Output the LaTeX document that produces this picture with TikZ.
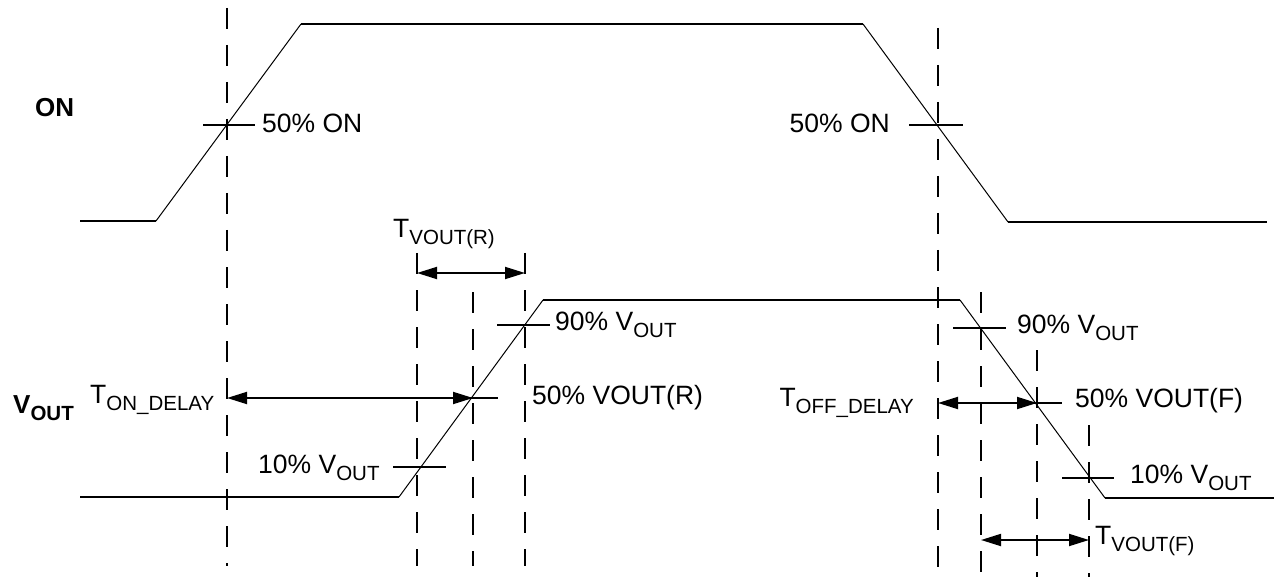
\documentclass[tikz,border=0pt]{standalone}
\usepackage{fontspec}
\setmainfont{Liberation Sans}
\usetikzlibrary{arrows.meta}
\newcommand{\lsub}[1]{\raisebox{-7pt}{\fontsize{20.5}{22}\selectfont #1}}
\begin{document}
\begin{tikzpicture}[x=1pt,y=-1pt,
  wave/.style={line width=1.8pt},
  slope/.style={line width=1pt},
  guide/.style={line width=2.2pt,dash pattern=on 21pt off 16pt},
  tickmark/.style={line width=1.8pt},
  dimline/.style={line width=1.8pt,{Triangle[length=20pt,width=12pt]}-{Triangle[length=20pt,width=12pt]}},
  lbl/.style={font=\fontsize{26.5}{30}\selectfont,inner sep=0pt},
  blbl/.style={font=\fontsize{26}{30}\selectfont\bfseries,inner sep=0pt}]
\useasboundingbox (0,0) rectangle (1276,577);
% ON waveform
\coordinate (on0) at (80,221);
\coordinate (on1) at (156,221);
\coordinate (on2) at (301,24);
\coordinate (on3) at (863,24);
\coordinate (on4) at (1008,222);
\coordinate (on5) at (1267,222);
\draw[wave] (on0) -- (on1);
\draw[slope] (on1) -- (on2);
\draw[wave] (on2) -- (on3);
\draw[slope] (on3) -- (on4);
\draw[wave] (on4) -- (on5);
% VOUT waveform
\coordinate (v0) at (80,497);
\coordinate (v1) at (399,497);
\coordinate (v2) at (543,300);
\coordinate (v3) at (960,300);
\coordinate (v4) at (1105,498);
\coordinate (v5) at (1274,498);
\draw[wave] (v0) -- (v1);
\draw[slope] (v1) -- (v2);
\draw[wave] (v2) -- (v3);
\draw[slope] (v3) -- (v4);
\draw[wave] (v4) -- (v5);
% guide lines
\coordinate (ga0) at (227,8);   \coordinate (ga1) at (227,566);
\coordinate (gb0) at (417,253); \coordinate (gb1) at (417,566);
\coordinate (gc0) at (473,292); \coordinate (gc1) at (473,566);
\coordinate (gd0) at (525,253); \coordinate (gd1) at (525,566);
\coordinate (ge0) at (938,28);  \coordinate (ge1) at (938,577);
\coordinate (gf0) at (981,292); \coordinate (gf1) at (981,577);
\coordinate (gg0) at (1037,350);\coordinate (gg1) at (1037,577);
\coordinate (gh0) at (1089,425);\coordinate (gh1) at (1089,577);
\foreach \g in {a,b,c,d,e,f,g,h} \draw[guide] (g\g0) -- (g\g1);
% tick marks
\coordinate (t1a) at (203,125);  \coordinate (t1b) at (255,125);
\coordinate (t2a) at (909,125);  \coordinate (t2b) at (963,125);
\coordinate (t3a) at (393,467);  \coordinate (t3b) at (446,467);
\coordinate (t4a) at (448,398);  \coordinate (t4b) at (498,398);
\coordinate (t5a) at (497,325);  \coordinate (t5b) at (550,325);
\coordinate (t6a) at (953,328);  \coordinate (t6b) at (1006,328);
\coordinate (t7a) at (1010,403); \coordinate (t7b) at (1062,403);
\coordinate (t8a) at (1062,478); \coordinate (t8b) at (1114,478);
\foreach \t in {1,...,8} \draw[tickmark] (t\t a) -- (t\t b);
% dimension arrows
\coordinate (dOnA) at (227,398);  \coordinate (dOnB) at (473,398);
\coordinate (dRA) at (417,273);   \coordinate (dRB) at (525,273);
\coordinate (dOffA) at (938,403); \coordinate (dOffB) at (1037,403);
\coordinate (dFA) at (981,540);   \coordinate (dFB) at (1089,540);
\draw[dimline] (dOnA) -- (dOnB);
\draw[dimline] (dRA) -- (dRB);
\draw[dimline] (dOffA) -- (dOffB);
\draw[dimline] (dFA) -- (dFB);
% labels
\node[blbl,anchor=base west] (lon) at (35,117) {ON};
\node[blbl,anchor=base west] (lvout) at (13,413) {V\lsub{\bfseries OUT}};
\node[lbl,anchor=base west] (l50a) at (262,133) {50\% ON};
\node[lbl,anchor=base east] (l50b) at (890,133) {50\% ON};
\node[lbl,anchor=base west] (ltr) at (393,238) {T\lsub{VOUT(R)}};
\node[lbl,anchor=base west] (l90a) at (555,330) {90\% V\lsub{OUT}};
\node[lbl,anchor=base west] (l50r) at (532,404) {50\% VOUT(R)};
\node[lbl,anchor=base west] (l10a) at (258,473) {10\% V\lsub{OUT}};
\node[lbl,anchor=base west] (lton) at (90,403) {T\lsub{ON\_DELAY}};
\node[lbl,anchor=base east] (ltoff) at (914,406) {T\lsub{OFF\_DELAY}};
\node[lbl,anchor=base west] (l90b) at (1017,333) {90\% V\lsub{OUT}};
\node[lbl,anchor=base west] (l50f) at (1075,407) {50\% VOUT(F)};
\node[lbl,anchor=base west] (l10b) at (1130,483) {10\% V\lsub{OUT}};
\node[lbl,anchor=base west] (ltf) at (1095,544) {T\lsub{VOUT(F)}};
\end{tikzpicture}
\end{document}
